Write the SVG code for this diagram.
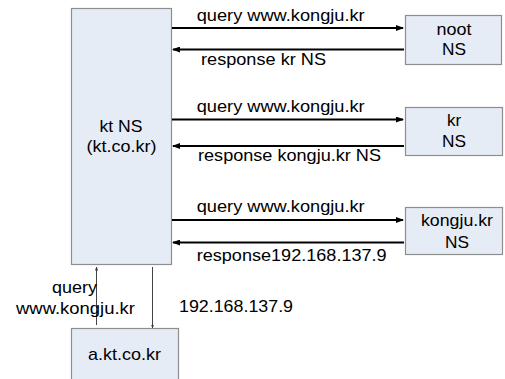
<svg xmlns="http://www.w3.org/2000/svg" width="505" height="379" viewBox="0 0 505 379">
<style>
.box{fill:#E6ECF6;stroke:#8E8E8E;stroke-width:1.2}
text{font-family:"Liberation Sans",Arial,sans-serif;font-size:17px;fill:#000}
.c{text-anchor:middle}
.a{stroke:#000;stroke-width:2;fill:none}
.t{stroke:#444;stroke-width:1;fill:none}
</style>
<defs>
<marker id="ah" markerWidth="8" markerHeight="6" refX="7" refY="3" orient="auto" markerUnits="userSpaceOnUse"><path d="M0,0L8,3L0,6z" fill="#000"/></marker>
<marker id="sh" markerWidth="4" markerHeight="4" refX="3.5" refY="2" orient="auto" markerUnits="userSpaceOnUse"><path d="M0,0.5L4,2L0,3.5z" fill="#333"/></marker>
</defs>
<g id="ktns"><rect class="box" x="71.5" y="8.5" width="100" height="256"/>
<text class="c" x="121" y="131.5" textLength="43" lengthAdjust="spacingAndGlyphs">kt NS</text>
<text class="c" x="121.5" y="151.5" textLength="70" lengthAdjust="spacingAndGlyphs">(kt.co.kr)</text></g>
<g id="noot"><rect class="box" x="405.5" y="15.5" width="96" height="49"/>
<text class="c" x="454" y="35" textLength="35" lengthAdjust="spacingAndGlyphs">noot</text>
<text class="c" x="454" y="55" textLength="24" lengthAdjust="spacingAndGlyphs">NS</text></g>
<g id="kr"><rect class="box" x="405.5" y="107.5" width="97" height="48"/>
<text class="c" x="454" y="126">kr</text>
<text class="c" x="454" y="146.5" textLength="24" lengthAdjust="spacingAndGlyphs">NS</text></g>
<g id="kongju"><rect class="box" x="405.5" y="207.5" width="97" height="47"/>
<text class="c" x="457" y="226" textLength="72" lengthAdjust="spacingAndGlyphs">kongju.kr</text>
<text class="c" x="457" y="247.5" textLength="24" lengthAdjust="spacingAndGlyphs">NS</text></g>
<g id="akt"><rect class="box" x="71.5" y="328.5" width="107" height="60"/>
<text class="c" x="124.5" y="360" textLength="73" lengthAdjust="spacingAndGlyphs">a.kt.co.kr</text></g>
<g id="connectors">
<line class="a" x1="172" y1="28" x2="403" y2="28" marker-end="url(#ah)"/>
<line class="a" x1="404" y1="49.5" x2="173" y2="49.5" marker-end="url(#ah)"/>
<line class="a" x1="172" y1="119.5" x2="403" y2="119.5" marker-end="url(#ah)"/>
<line class="a" x1="404" y1="146" x2="173" y2="146" marker-end="url(#ah)"/>
<line class="a" x1="172" y1="220" x2="403" y2="220" marker-end="url(#ah)"/>
<line class="a" x1="404" y1="242.5" x2="173" y2="242.5" marker-end="url(#ah)"/>
<line class="t" x1="96.5" y1="325" x2="96.5" y2="267" marker-end="url(#sh)"/>
<line class="t" x1="152.5" y1="267" x2="152.5" y2="328" marker-end="url(#sh)"/>
<text x="196.7" y="21" textLength="168" lengthAdjust="spacingAndGlyphs">query www.kongju.kr</text>
<text x="201" y="64.5" textLength="125" lengthAdjust="spacingAndGlyphs">response kr NS</text>
<text x="196.7" y="111.5" textLength="168" lengthAdjust="spacingAndGlyphs">query www.kongju.kr</text>
<text x="198" y="160.5" textLength="183" lengthAdjust="spacingAndGlyphs">response kongju.kr NS</text>
<text x="196.7" y="212" textLength="168" lengthAdjust="spacingAndGlyphs">query www.kongju.kr</text>
<text x="196.7" y="260.5" textLength="190" lengthAdjust="spacingAndGlyphs">response192.168.137.9</text>
<text x="52" y="293" textLength="45" lengthAdjust="spacingAndGlyphs">query</text>
<text x="16" y="314" textLength="119" lengthAdjust="spacingAndGlyphs">www.kongju.kr</text>
<text x="179" y="311.5" textLength="114" lengthAdjust="spacingAndGlyphs">192.168.137.9</text>
</g>
</svg>
